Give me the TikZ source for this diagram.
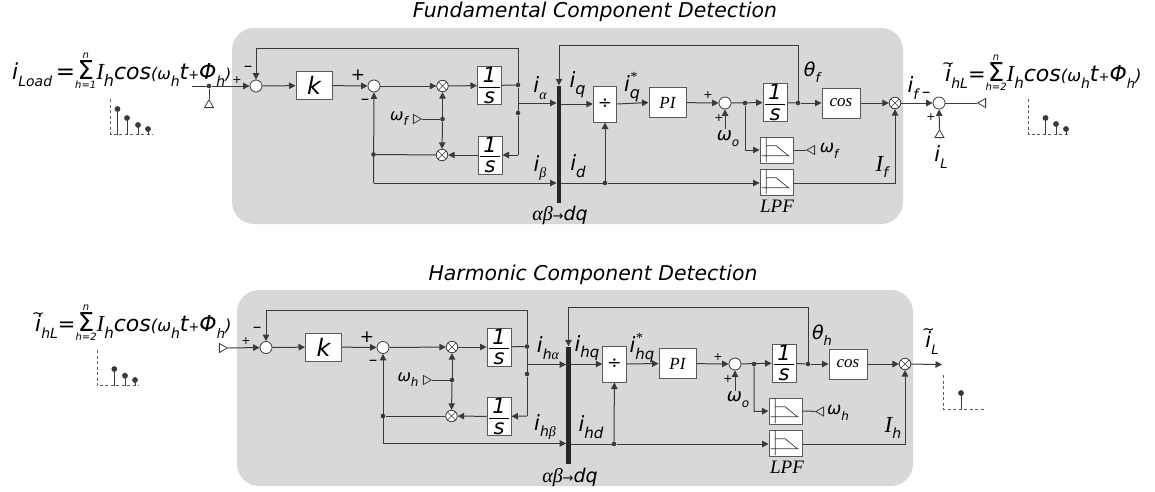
\documentclass[tikz,border=0pt]{standalone}
\usepackage{fontspec}
\setmainfont{DejaVu Sans}
\newfontfamily\ser{Liberation Serif}
\usetikzlibrary{arrows.meta,shapes.geometric}
\definecolor{panelgray}{HTML}{D8D8D8}
\definecolor{linec}{HTML}{3A3A3A}
\definecolor{boxc}{HTML}{5A5A5A}
\newcommand{\myfs}[1]{\fontsize{#1}{#1}\selectfont}
\newcommand{\lsub}[2]{\raisebox{-.32em}{\myfs{#1}#2}}
\newcommand{\sumlim}[2]{$\mathop{\hbox{\myfs{26}\upshape Σ}}\limits^{\hbox{\myfs{10}\itshape #1}}_{\hbox{\myfs{10}\itshape #2}}$}
\newcommand{\ones}{$\displaystyle{\hbox{\myfs{21}\itshape\,1\,}\above 1.2pt\hbox{\myfs{21}\itshape s}}$}
\newcommand{\tildei}{\ooalign{i\cr\hidewidth\raisebox{.62em}{\myfs{15}\upshape\char`\~}\hidewidth\cr}}
\newcommand{\stemline}[2]{\draw[stemc] (#1,#2) -- (#1,\stembase); \fill[linec] (#1,#2) circle (2.9pt);}
\newcommand{\stembase}{0}
\newcommand{\lpficon}[1]{\draw[shift={(#1.north west)},linec,line width=.7pt]
   (6.7,.5) -- (6.7,25.5) (2,19.3) -- (30,19.3) (6.7,9.3) -- (16.7,9.3) -- (29,19.3);}
\tikzset{
  panel/.style={fill=panelgray,rounded corners=22pt},
  ln/.style={draw=linec,line width=1pt},
  arr/.style={ln,-{Triangle[length=6.5pt,width=6.5pt]}},
  sumc/.style={circle,draw=linec,fill=white,line width=.8pt,inner sep=0pt,minimum size=12pt},
  multc/.style={circle,draw=linec,fill=white,line width=.8pt,inner sep=0pt,minimum size=11.5pt,path picture={\draw[linec,line width=.6pt]
     (path picture bounding box.north west) -- (path picture bounding box.south east)
     (path picture bounding box.north east) -- (path picture bounding box.south west);}},
  dotc/.style={circle,fill=linec,inner sep=0pt,minimum size=4.6pt},
  blockb/.style={rectangle,draw=boxc,fill=white,line width=1pt,inner sep=0pt},
  intb/.style={blockb,minimum width=24pt,minimum height=38pt},
  divb/.style={blockb,minimum width=23.5pt,minimum height=36pt,font=\myfs{17}},
  pib/.style={blockb,minimum width=37pt,minimum height=30pt,font=\ser\itshape\myfs{17}},
  cosb/.style={blockb,minimum width=38pt,minimum height=30pt,font=\ser\itshape\myfs{17}},
  kb/.style={blockb,minimum width=36pt,minimum height=28pt,font=\itshape\myfs{24}},
  lpfb/.style={blockb,minimum width=33pt,minimum height=26pt},
  barb/.style={rectangle,fill=black!85,inner sep=0pt,minimum width=4.5pt,minimum height=117pt},
  tri/.style={regular polygon,regular polygon sides=3,draw=linec,line width=.8pt,inner sep=0pt,minimum size=10.5pt},
  txt/.style={inner sep=0pt,font=\itshape\myfs{21}},
  sgn/.style={inner sep=0pt,font=\upshape\myfs{11}},
  sgnb/.style={inner sep=0pt,font=\upshape\myfs{17}},
  serl/.style={inner sep=0pt,font=\ser\itshape\myfs{19}},
  ttl/.style={inner sep=0pt,font=\itshape\myfs{20.4}},
  spec/.style={draw=boxc,dashed,dash pattern=on 3pt off 2.5pt,line width=.8pt},
  stemc/.style={draw=linec,line width=.8pt},
}
\begin{document}
\begin{tikzpicture}[x=1pt,y=-1pt]
\useasboundingbox (0,0) rectangle (1155,491);
% ---------- panels and titles
\fill[panel] (232,28) rectangle (903,224);
\fill[panel] (237,290) rectangle (913,486);
\node[ttl] (t1) at (595,12) {Fundamental Component Detection};
\node[ttl] (t2) at (593,275) {Harmonic Component Detection};

% ---------- TOP
\coordinate (ain) at (192,86);
\node[dotc] (adot) at (209,86) {};
\node[tri] (atri) at (209,105) {};
\node[sumc] (as1) at (256,86) {};
\node[kb] (ak) at (314,85.5) {k};
\node[sumc] (as2) at (374,86) {};
\node[multc] (am1) at (442.5,86) {};
\node[multc] (am2) at (442,155) {};
\node[dotc] (amd) at (442.5,119) {};
\node[tri,shape border rotate=-90] (awt) at (416,119) {};
\node[intb] (ai1) at (489.5,85.5) {\ones};
\node[intb] (ai2) at (490,155) {\ones};
\node[dotc] (ad1) at (518,85) {};
\node[dotc] (ad2) at (518,113) {};
\coordinate (aj) at (518,103);
\coordinate (ac1) at (518,48);
\coordinate (ac2) at (256,48);
\coordinate (ac3) at (518,155);
\coordinate (ac4) at (373.5,183);
\node[dotc] (ad3) at (373.5,154.5) {};
\node[barb] (abar) at (559,144) {};
\node[divb] (adiv) at (605,104) {÷};
\node[pib] (api) at (667.5,102.5) {PI};
\node[sumc] (as3) at (725,103) {};
\node[dotc] (ad4) at (745,103) {};
\node[intb] (ai3) at (775,102.5) {\ones};
\node[dotc] (ad5) at (798,103) {};
\node[cosb] (acos) at (841,103) {cos};
\node[multc] (am3) at (895,103) {};
\node[sumc] (as4) at (939,103) {};
\node[tri,shape border rotate=90] (aot) at (983,103) {};
\node[tri] (ailt) at (939.5,135) {};
\node[lpfb] (al1) at (776.5,150) {};
\node[lpfb] (al2) at (776.5,182) {};
\lpficon{al1}\lpficon{al2}
\node[tri,shape border rotate=90] (awr) at (812,150) {};
\node[dotc] (ad6) at (605,183) {};
\coordinate (ac5) at (745,150);
\coordinate (ac6) at (895,183);
\coordinate (ac7) at (798,45);
\coordinate (ac8) at (559,45);
\coordinate (aw) at (725,129);

\draw[ln] (ain) -- (adot);
\draw[ln] (adot) -- (atri);
\draw[arr] (adot) -- (as1);
\draw[arr] (as1) -- (ak);
\draw[arr] (ak) -- (as2);
\draw[arr] (as2) -- (am1);
\draw[arr] (am1) -- (ai1);
\draw[ln] (ai1) -- (ad1);
\draw[arr] (ad1) -- (ac1) -- (ac2) -- (as1);
\draw[ln] (ad1) -- (ad2) -- (ac3);
\draw[arr] (ac3) -- (ai2);
\draw[arr] (ai2) -- (am2);
\draw[ln] (am2) -- (ad3);
\draw[arr] (ac4) -- (as2);
\draw[arr] (ac4) -- (ac4 -| abar.west);
\draw[ln] (awt) -- (amd);
\draw[arr] (amd) -- (am1);
\draw[arr] (amd) -- (am2);
\draw[arr] (aj) -- (aj -| abar.west);
\draw[arr] (abar.east |- adiv.west) -- (adiv.west);
\draw[arr] (adiv.east) -- (api.west);
\draw[arr] (api) -- (as3);
\draw[arr] (aw) -- (as3);
\draw[arr] (as3) -- (ai3);
\draw[ln] (ai3) -- (ad5);
\draw[arr] (ad5) -- (acos);
\draw[arr] (acos) -- (am3);
\draw[arr] (am3) -- (as4);
\draw[ln] (as4) -- (aot);
\draw[arr] (ailt) -- (as4);
\draw[arr] (ad5) -- (ac7) -- (ac8) -- (abar.north);
\draw[arr] (ad4) -- (ac5) -- (al1.west);
\draw[ln] (al1.east) -- (awr);
\draw[ln] (abar.east |- ad6) -- (ad6);
\draw[arr] (ad6) -- (adiv);
\draw[arr] (ad6) -- (al2.west |- ad6);
\draw[arr] (al2.east |- ac6) -- (ac6) -- (am3);

\node[sgn] (ap1) at (237,80) {+};
\node[sgnb] (am1s) at (248,69) {–};
\node[sgnb] (ap2) at (358,75) {+};
\node[sgnb] (am2s) at (365,102) {–};
\node[sgn] (ap3) at (708,95) {+};
\node[sgn] (ap4) at (719,118) {+};
\node[sgnb] (am4s) at (926,95) {–};
\node[sgn] (ap5) at (931,117) {+};
\node[txt] (alwf) at (399,119) {\myfs{16}ω\lsub{12}{f}};
\node[txt] (alia) at (540,88) {i\lsub{14}{\ser α}};
\node[txt] (aliq) at (577.5,85) {i\lsub{16}{q}};
\node[txt] (aliqs) at (632,87) {i\rlap{\raisebox{.45em}{\myfs{14}\ser *}}\lsub{16}{q}};
\node[txt] (alib) at (540,168) {i\lsub{14}{\ser β}};
\node[txt] (alid) at (578,166) {i\lsub{15}{d}};
\node[inner sep=0pt] (alab) at (560,215) {{\ser\itshape\myfs{20}αβ}{\myfs{13}\upshape→}{\itshape\myfs{19}dq}};
\node[txt] (alwo) at (728,139) {\myfs{18}ω\lsub{12}{o}};
\node[serl] (allpf) at (777,206) {LPF};
\node[txt] (althf) at (812,72) {\myfs{19}θ\lsub{13}{f}};
\node[txt] (alif) at (882,167) {{\ser\myfs{23}I}\lsub{14}{f}};
\node[txt] (alf) at (913,88) {i\lsub{14}{f}};
\node[txt] (alil) at (941,157) {i\lsub{13}{L}};
\node[txt] (alwr) at (829,151) {\myfs{17}ω\lsub{12}{f}};
\node[txt,anchor=west] (af1) at (12,71) {\myfs{22}i\lsub{14}{Load}{\myfs{23}\upshape\,=}\sumlim{n}{h=1}{\ser\myfs{23}I}\lsub{16}{h}cos{\myfs{16}(ω}\lsub{14}{h}t{\myfs{13}+}Φ\lsub{14}{h}{\myfs{15})}};
\node[txt,anchor=west] (af2) at (945,73) {\myfs{22}\tildei\lsub{14}{hL}{\myfs{21}\upshape=}\sumlim{n}{h=2}{\ser\myfs{23}I}\lsub{15}{h}cos{\myfs{16.5}(ω}\lsub{14}{h}t{\myfs{13}+}Φ\lsub{13}{h}{\myfs{16.5})}};

\renewcommand{\stembase}{134.5}
\draw[spec] (110.5,99) -- (110.5,134.5) -- (153,134.5);
\stemline{117.5}{109}\stemline{127}{118}\stemline{138}{125}\stemline{148}{129}
\renewcommand{\stembase}{134.5}
\draw[spec] (1028.5,99) -- (1028.5,134.5) -- (1070,134.5);
\stemline{1045.5}{118}\stemline{1056}{124}\stemline{1066}{129}

% ---------- BOTTOM
\node[tri,shape border rotate=-90] (btri) at (222,348) {};
\node[sumc] (bs1) at (266,347.5) {};
\node[kb] (bk) at (323.5,347) {k};
\node[sumc] (bs2) at (383,347.5) {};
\node[multc] (bm1) at (452,347) {};
\node[multc] (bm2) at (451.5,416) {};
\node[dotc] (bmd) at (452,380) {};
\node[tri,shape border rotate=-90] (bwt) at (426,380) {};
\node[intb] (bi1) at (499,347) {\ones};
\node[intb] (bi2) at (499,416.5) {\ones};
\node[dotc] (bd1) at (527,346.5) {};
\node[dotc] (bd2) at (527,374) {};
\coordinate (bj) at (527,364.5);
\coordinate (bc1) at (527,310);
\coordinate (bc2) at (266,310);
\coordinate (bc3) at (527,416);
\coordinate (bc4) at (383,443.5);
\node[dotc] (bd3) at (383,416) {};
\node[barb] (bbar) at (568.5,405) {};
\node[divb] (bdiv) at (614.5,364) {÷};
\node[pib] (bpi) at (677.5,363.5) {PI};
\node[sumc] (bs3) at (735,364) {};
\node[dotc] (bd4) at (754,364) {};
\node[intb] (bi3) at (784,363) {\ones};
\node[dotc] (bd5) at (808,364) {};
\node[cosb] (bcos) at (848,364) {cos};
\node[multc] (bm3) at (905,364) {};
\coordinate (bout) at (942,364.5);
\node[lpfb] (bl1) at (785.5,411) {};
\node[lpfb] (bl2) at (785.5,443) {};
\lpficon{bl1}\lpficon{bl2}
\node[tri,shape border rotate=90] (bwr) at (821,411.5) {};
\node[dotc] (bd6) at (614,444) {};
\coordinate (bc5) at (754,411.5);
\coordinate (bc6) at (905,444);
\coordinate (bc7) at (808,307);
\coordinate (bc8) at (568.5,307);
\coordinate (bw) at (735,391);

\draw[arr] (btri) -- (bs1);
\draw[arr] (bs1) -- (bk);
\draw[arr] (bk) -- (bs2);
\draw[arr] (bs2) -- (bm1);
\draw[arr] (bm1) -- (bi1);
\draw[ln] (bi1) -- (bd1);
\draw[arr] (bd1) -- (bc1) -- (bc2) -- (bs1);
\draw[ln] (bd1) -- (bd2) -- (bc3);
\draw[arr] (bc3) -- (bi2);
\draw[arr] (bi2) -- (bm2);
\draw[ln] (bm2) -- (bd3);
\draw[arr] (bc4) -- (bs2);
\draw[arr] (bc4) -- (bc4 -| bbar.west);
\draw[ln] (bwt) -- (bmd);
\draw[arr] (bmd) -- (bm1);
\draw[arr] (bmd) -- (bm2);
\draw[arr] (bj) -- (bj -| bbar.west);
\draw[arr] (bbar.east |- bdiv.west) -- (bdiv.west);
\draw[arr] (bdiv.east) -- (bpi.west);
\draw[arr] (bpi) -- (bs3);
\draw[arr] (bw) -- (bs3);
\draw[arr] (bs3) -- (bi3);
\draw[ln] (bi3) -- (bd5);
\draw[arr] (bd5) -- (bcos);
\draw[arr] (bcos) -- (bm3);
\draw[arr] (bm3) -- (bout);
\draw[arr] (bd5) -- (bc7) -- (bc8) -- (bbar.north);
\draw[arr] (bd4) -- (bc5) -- (bl1.west);
\draw[ln] (bl1.east) -- (bwr);
\draw[ln] (bbar.east |- bd6) -- (bd6);
\draw[arr] (bd6) -- (bdiv);
\draw[arr] (bd6) -- (bl2.west |- bd6);
\draw[arr] (bl2.east |- bc6) -- (bc6) -- (bm3);

\node[sgn] (bp1) at (246,341) {+};
\node[sgnb] (bm1s) at (257,330) {–};
\node[sgnb] (bp2) at (367,337) {+};
\node[sgnb] (bm2s) at (373,363) {–};
\node[sgn] (bp3) at (718,357) {+};
\node[sgn] (bp4) at (728,379) {+};
\node[txt] (blwh) at (408,380) {\myfs{16}ω\lsub{12}{h}};
\node[txt] (blia) at (548,348) {i\lsub{14}{h{\ser α}}};
\node[txt] (bliq) at (587,348) {i\lsub{15}{hq}};
\node[txt] (bliqs) at (642,348) {i\rlap{\raisebox{.45em}{\myfs{14}\ser *}}\lsub{15}{hq}};
\node[txt] (blib) at (545,427) {i\lsub{14}{h{\ser β}}};
\node[txt] (blid) at (591,427) {i\lsub{15}{hd}};
\node[inner sep=0pt] (blab) at (570,477) {{\ser\itshape\myfs{20}αβ}{\myfs{13}\upshape→}{\itshape\myfs{19}dq}};
\node[txt] (blwo) at (738,400) {\myfs{18}ω\lsub{12}{o}};
\node[serl] (bllpf) at (787,467) {LPF};
\node[txt] (blthh) at (822,335) {\myfs{19}θ\lsub{13}{h}};
\node[txt] (blih) at (893,428) {{\ser\myfs{23}I}\lsub{14}{h}};
\node[txt] (blil) at (932,343) {\tildei\lsub{13}{L}};
\node[txt] (blwr) at (838,413) {\myfs{17}ω\lsub{12}{h}};
\node[txt,anchor=west] (bf1) at (35,323) {\myfs{22}\tildei\lsub{14}{hL}{\myfs{21}\upshape=}\sumlim{n}{h=2}{\ser\myfs{23}I}\lsub{15}{h}cos{\myfs{16.5}(ω}\lsub{14}{h}t{\myfs{13}+}Φ\lsub{13}{h}{\myfs{16.5})}};

\renewcommand{\stembase}{385.7}
\draw[spec] (97,350) -- (97,385.7) -- (139,385.7);
\stemline{114.3}{369}\stemline{125}{375.7}\stemline{135}{380}
\renewcommand{\stembase}{409.7}
\draw[spec] (943.7,375) -- (943.7,409.7) -- (986,409.7);
\stemline{961}{393}
\end{tikzpicture}
\end{document}
